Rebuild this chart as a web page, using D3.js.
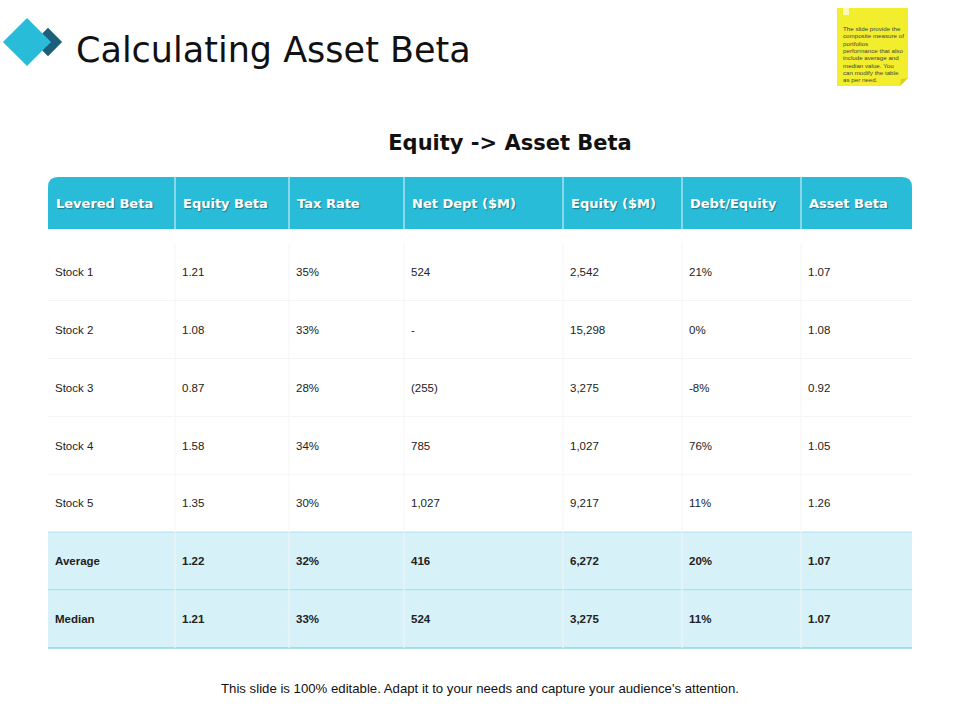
<!DOCTYPE html>
<html><head><meta charset="utf-8">
<script src="https://cdn.jsdelivr.net/npm/d3@7"></script>
<style>body{margin:0;background:#fff}</style>
</head><body><div id="chart"></div>
<script>
const columns = ["Levered Beta", "Equity Beta", "Tax Rate", "Net Dept ($M)", "Equity ($M)", "Debt/Equity", "Asset Beta"];
const stocks = ["Stock 1", "Stock 2", "Stock 3", "Stock 4", "Stock 5"];
const equityBeta = ["1.21", "1.08", "0.87", "1.58", "1.35"];
const taxRate = ["35%", "33%", "28%", "34%", "30%"];
const netDebt = ["524", "-", "(255)", "785", "1,027"];
const equity = ["2,542", "15,298", "3,275", "1,027", "9,217"];
const debtEquity = ["21%", "0%", "-8%", "76%", "11%"];
const assetBeta = ["1.07", "1.08", "0.92", "1.05", "1.26"];
const summary = [
  ["Average", "1.22", "32%", "416", "6,272", "20%", "1.07"],
  ["Median", "1.21", "33%", "524", "3,275", "11%", "1.07"]
];
const note = ["The slide provide the", "composite measure of", "portfolios", "performance that also", "include average and", "median value. You", "can modify the table", "as per need."];

const W = 960, H = 720;
const svg = d3.select("#chart").append("svg").attr("width", W).attr("height", H);

// logo
svg.append("rect").attr("x", 38).attr("y", 32).attr("width", 20).attr("height", 20)
  .attr("transform", "rotate(45 48 42)").attr("fill", "#1d5e7a");
svg.append("rect").attr("x", 10).attr("y", 25).attr("width", 34).attr("height", 34)
  .attr("transform", "rotate(45 27 42)").attr("fill", "#29bcd8");
svg.append("text").attr("x", 76).attr("y", 62).attr("font-family", "DejaVu Sans, Verdana")
  .attr("font-size", 35).attr("fill", "#111").text("Calculating Asset Beta");

// sticky note
svg.append("path").attr("d", "M837,8H908V78L900,86H837Z").attr("fill", "#f2ee2e");
svg.append("path").attr("d", "M908,78L900,86L901,79Z").attr("fill", "#d8d21a");
svg.append("rect").attr("x", 843).attr("y", 8).attr("width", 6).attr("height", 7).attr("fill", "#fbf9b8");
svg.append("g").selectAll("text").data(note).join("text")
  .attr("x", 843).attr("y", (d, i) => 31 + i * 7.3)
  .attr("font-family", "Liberation Sans, Arial").attr("font-size", 6.2).attr("fill", "#444").text(d => d);

svg.append("text").attr("x", 510).attr("y", 150).attr("text-anchor", "middle")
  .attr("font-family", "DejaVu Sans, Verdana").attr("font-weight", "bold")
  .attr("font-size", 21).attr("fill", "#111").text("Equity -> Asset Beta");

// table
const colEdges = [48, 175, 289, 404, 563, 682, 801, 912];
const rows = stocks.map((s, i) => [s, equityBeta[i], taxRate[i], netDebt[i], equity[i], debtEquity[i], assetBeta[i]]).concat(summary);
const y = d3.scaleBand().domain(d3.range(rows.length)).range([243, 648]);
const left = 48, right = 912;

svg.append("path").attr("d", `M${left},229V187Q${left},177 ${left + 10},177H${right - 10}Q${right},177 ${right},187V229Z`).attr("fill", "#29bcd8");
svg.append("g").selectAll("line").data(colEdges.slice(1, -1)).join("line")
  .attr("x1", d => d).attr("x2", d => d).attr("y1", 177).attr("y2", 229)
  .attr("stroke", "#e6f7fb").attr("stroke-width", 1);
svg.append("g").selectAll("text").data(columns).join("text")
  .attr("x", (d, i) => colEdges[i] + 8).attr("y", 208)
  .attr("font-family", "DejaVu Sans, Verdana").attr("font-weight", "bold").attr("font-size", 13)
  .attr("fill", "#fff").attr("style", "text-shadow:1px 1px 1px rgba(0,0,0,0.35)").text(d => d);

const rg = svg.append("g").selectAll("g").data(rows).join("g");
rg.append("rect").attr("x", left).attr("width", right - left)
  .attr("y", (d, i) => y(i)).attr("height", y.bandwidth())
  .attr("fill", (d, i) => i >= stocks.length ? "#d6f1f7" : "#fff");
rg.append("line").attr("x1", left).attr("x2", right)
  .attr("y1", (d, i) => y(i) + y.bandwidth()).attr("y2", (d, i) => y(i) + y.bandwidth())
  .attr("stroke", (d, i) => i >= stocks.length - 1 ? "#5cc6dc" : "#ececec").attr("stroke-width", 1);
rg.each(function (row, ri) {
  const g = d3.select(this);
  g.selectAll("line.v").data(colEdges.slice(1, -1)).join("line").attr("class", "v")
    .attr("x1", d => d).attr("x2", d => d)
    .attr("y1", y(ri)).attr("y2", y(ri) + y.bandwidth())
    .attr("stroke", "#f5f5f5");
  g.selectAll("text").data(row).join("text")
    .attr("x", (d, i) => colEdges[i] + 7).attr("y", y(ri) + y.bandwidth() / 2 + 4)
    .attr("font-family", "Liberation Sans, Arial").attr("font-size", 11.5)
    .attr("font-weight", ri >= stocks.length ? "bold" : "normal")
    .attr("fill", "#222").text(d => d);
});

svg.append("text").attr("x", 480).attr("y", 693).attr("text-anchor", "middle")
  .attr("font-family", "Liberation Sans, Arial").attr("font-size", 13.2).attr("fill", "#111")
  .text("This slide is 100% editable. Adapt it to your needs and capture your audience's attention.");
</script></body></html>
